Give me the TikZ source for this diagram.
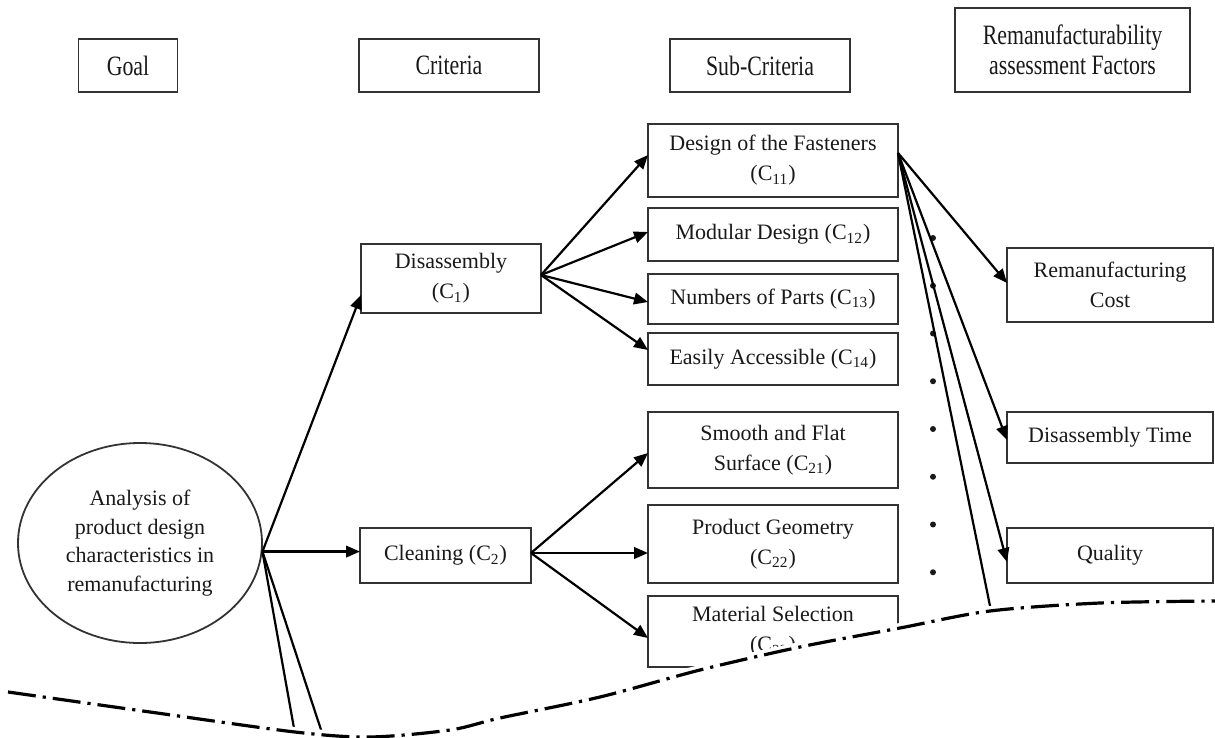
\documentclass[tikz,border=0pt]{standalone}
\usepackage{fontspec}
\setmainfont{Liberation Serif}
\newfontfamily\headfont[FakeStretch=0.78]{Liberation Serif}
\usetikzlibrary{shapes.geometric,arrows.meta,calc}
\begin{document}
\begin{tikzpicture}[x=0.5pt,y=-0.5pt,
  box/.style={draw=black!80, line width=0.9pt, inner sep=0pt, outer sep=0pt, align=center,
    font=\fontsize{11}{15}\selectfont, text=black!90},
  head/.style={box, font=\headfont\fontsize{14}{15}\selectfont},
  sbox/.style={box, minimum width=125pt},
  rbox/.style={box, minimum width=103pt},
  arr/.style={line width=1.1pt, -{Triangle[length=7pt,width=5.8pt]}},
  ln/.style={line width=1.1pt},
  dotmark/.style={circle, fill=black!90, inner sep=0pt, minimum size=3pt},
  cutline/.style={line width=1.6pt, dash pattern=on 14pt off 3.5pt on 1.6pt off 3.5pt},
]
\useasboundingbox (0,0) rectangle (1215,738);

% header
\node[head, minimum width=49.5pt, minimum height=26.5pt] (goal) at (128,65.5) {Goal};
\node[head, minimum width=90pt, minimum height=26.5pt] (crit) at (449,65.5) {Criteria};
\node[head, minimum width=90pt, minimum height=26.5pt] (sub) at (760,65.5) {Sub-Criteria};
\node[head, minimum width=117.5pt, minimum height=42pt] (rem) at (1072.5,50) {Remanufacturability\\assessment Factors};

% goal ellipse
\node[ellipse, draw=black!80, line width=0.9pt, minimum width=122pt, minimum height=100pt,
  inner sep=0pt, align=center, font=\fontsize{11}{14.25}\selectfont, text=black!90]
  (ell) at (140,543) {Analysis of\\product design\\characteristics in\\remanufacturing};
\coordinate (src) at (ell.-4.2);

% criteria
\node[box, minimum width=90pt, minimum height=34.5pt] (dis) at (451,278.5) {Disassembly\\(C\textsubscript{1})};
\node[box, minimum width=85.5pt, minimum height=27.5pt] (cle) at (445.5,555.5) {Cleaning (C\textsubscript{2})};

% sub-criteria
\node[sbox, minimum height=36.5pt] (c11) at (773,160.5) {Design of the Fasteners\\(C\textsubscript{11})};
\node[sbox, minimum height=26.5pt] (c12) at (773,234.5) {Modular Design (C\textsubscript{12})};
\node[sbox, minimum height=25pt] (c13) at (773,299) {Numbers of Parts (C\textsubscript{13})};
\node[sbox, minimum height=26pt] (c14) at (773,359) {Easily Accessible (C\textsubscript{14})};
\node[sbox, minimum height=38pt] (c21) at (773,450) {Smooth and Flat\\Surface (C\textsubscript{21})};
\node[sbox, minimum height=39pt] (c22) at (773,544) {Product Geometry\\(C\textsubscript{22})};
\node[sbox, minimum height=35.5pt] (c23) at (773,631.5) {Material Selection\\(C\textsubscript{23})};

% factors
\node[rbox, minimum height=37pt] (cost) at (1110,285) {Remanufacturing\\Cost};
\node[rbox, minimum height=25.5pt] (time) at (1110,437.5) {Disassembly Time};
\node[rbox, minimum height=27.5pt] (qual) at (1110,555.5) {Quality};

% dots
\foreach \k in {0,...,7}{
  \node[dotmark] (dot\k) at (933,{238+47.75*\k}) {};
}

% connectors from goal
\draw[arr] (src) -- ($(dis.west)+(0,16.5)$);
\draw[arr] (src) -- (src -| cle.west);
\coordinate (g1) at (297,745);
\coordinate (g2) at (326,745);
\draw[ln] (src) -- (g1);
\draw[ln] (src) -- (g2);

% from disassembly
\coordinate (dsrc) at ($(dis.east)+(0,-3.5)$);
\draw[arr] (dsrc) -- ($(c11.west)+(0,-5.5)$);
\draw[arr] (dsrc) -- ($(c12.west)+(0,-2.5)$);
\draw[arr] (dsrc) -- ($(c13.west)+(0,3)$);
\draw[arr] (dsrc) -- ($(c14.west)+(0,-9)$);

% from cleaning
\coordinate (csrc) at ($(cle.east)+(0,-2.5)$);
\draw[arr] (csrc) -- ($(c21.west)+(0,3)$);
\draw[arr] (csrc) -- ($(c22.west)+(0,9)$);
\draw[arr] (csrc) -- ($(c23.west)+(0,6.5)$);

% from fasteners
\coordinate (fsrc) at ($(c11.east)+(0,-7.5)$);
\draw[arr] (fsrc) -- ($(cost.west)+(0,-2)$);
\draw[arr] (fsrc) -- ($(time.west)+(0,2.5)$);
\draw[arr] (fsrc) -- ($(qual.west)+(0,6.5)$);
\coordinate (fcut) at (1002,665);
\draw[ln] (fsrc) -- (fcut);

% cut-away curve
\def\cutcurve{(0,690) (8,692) (150,712) (295,732) (370,737) (450,730) (500,718) (600,697) (700,670) (800,647) (900,628) (990,611) (1100,603) (1215,601)}
\fill[white] plot[smooth] coordinates {\cutcurve} -- (1215,760) -- (0,760) -- cycle;
\draw[white, line width=5pt] plot[smooth] coordinates {\cutcurve};
\draw[cutline] plot[smooth] coordinates {(8,692) (150,712) (295,732) (370,737) (450,730) (500,718) (600,697) (700,670) (800,647) (900,628) (990,611) (1100,603) (1215,601)};
\end{tikzpicture}
\end{document}
